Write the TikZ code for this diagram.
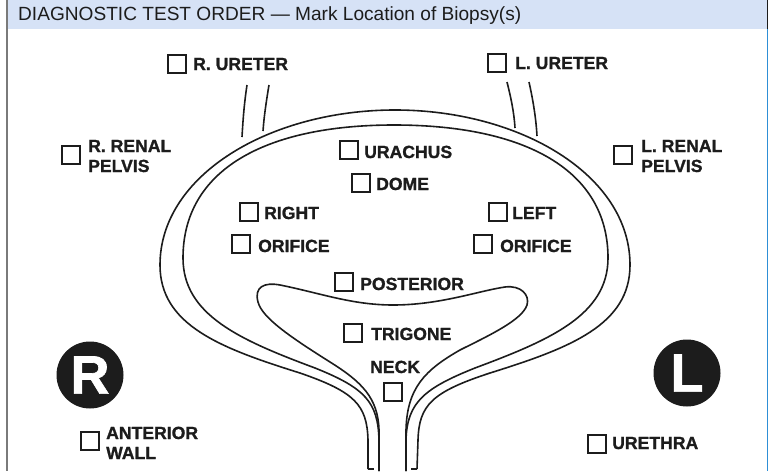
\documentclass[tikz,border=0pt]{standalone}
\usepackage{fontspec}
\setmainfont{Liberation Sans}[BoldFeatures={FakeBold=1.2}]
\definecolor{ink}{HTML}{1C1C1C}
\definecolor{hdr}{HTML}{D6E2F6}
\definecolor{rblue}{HTML}{2E8FD6}
\definecolor{lgray}{HTML}{7A7A7A}
\begin{document}
\begin{tikzpicture}[x=1pt,y=-1pt,
  cbox/.style={draw=ink, line width=2.4pt, minimum size=18.5pt, inner sep=0pt},
  lbl/.style={anchor=base west, inner sep=0pt, text=ink, font=\bfseries\fontsize{17.6}{20}\selectfont},
  wall/.style={draw=ink, line width=1.6pt},
  badge/.style={circle, fill=ink, minimum size=67pt, inner sep=0pt, text=white, font=\bfseries\fontsize{54}{54}\selectfont}]
\useasboundingbox (0,0) rectangle (770,471);
% header and frame
\fill[hdr] (8,0) rectangle (767,29);
\node[anchor=base west, inner sep=0pt, text=ink, font=\fontsize{19.1}{20}\selectfont] (title) at (18,20.5) {DIAGNOSTIC TEST ORDER — Mark Location of Biopsy(s)};
\draw[lgray, line width=1.4pt] (7,0) -- (7,471);
\draw[ink, line width=1.4pt] (767.5,0) -- (767.5,29);
\draw[rblue, line width=1.4pt] (767.5,29) -- (767.5,471);
% ureters
\draw[wall] (247,85) .. controls (244,105) and (243,120) .. (242,137);
\draw[wall] (269,85) .. controls (266,103) and (264,117) .. (263,131);
\draw[wall] (507,82) .. controls (511,98) and (514,112) .. (515,128);
\draw[wall] (529,82) .. controls (533,100) and (536,118) .. (537,136);
% outer wall
\draw[wall] (368,469) -- (368,440) .. controls (367,405) and (355,392) .. (300,373)
  .. controls (220,348) and (160,325) .. (160,265)
  .. controls (160,175) and (270,110) .. (395,110)
  .. controls (520,110) and (630,175) .. (630,265)
  .. controls (630,325) and (570,348) .. (490,373)
  .. controls (432,392) and (419,405) .. (418,440) -- (417,469);
% inner wall
\draw[wall] (379,471) -- (379,440) .. controls (378,402) and (365,388) .. (315,368)
  .. controls (240,340) and (183,315) .. (183,258)
  .. controls (183,170) and (265,125) .. (394,125)
  .. controls (525,125) and (608,170) .. (608,258)
  .. controls (608,315) and (550,340) .. (475,368)
  .. controls (425,388) and (407,402) .. (406,440) -- (406,471);
% trigone
\draw[wall] (379,471) -- (379,430) .. controls (378,398) and (362,382) .. (330,362)
  .. controls (292,338) and (262,318) .. (258,302)
  .. controls (254,287) and (264,282) .. (280,285)
  .. controls (320,293) and (352,305) .. (393,305)
  .. controls (440,305) and (478,291) .. (505,287)
  .. controls (521,285) and (530,295) .. (527,305)
  .. controls (522,320) and (490,335) .. (460,350)
  .. controls (425,370) and (407,388) .. (406,430) -- (406,471);
% urethra end ticks
\draw[wall] (368,469) -- (374,469);
\draw[wall] (411,469) -- (417,469);
% checkboxes and labels
\node[cbox] (b1) at (177,64) {};  \node[lbl] (t1) at (193,70) {R. URETER};
\node[cbox] (b2) at (497,63) {};  \node[lbl] (t2) at (515,69) {L. URETER};
\node[cbox] (b3) at (71,155) {};  \node[lbl] (t3a) at (88,152) {R. RENAL}; \node[lbl] (t3b) at (88,172) {PELVIS};
\node[cbox] (b4) at (623,155) {}; \node[lbl] (t4a) at (641,152) {L. RENAL}; \node[lbl] (t4b) at (641,172) {PELVIS};
\node[cbox] (b5) at (349,150) {}; \node[lbl] (t5) at (364,158) {URACHUS};
\node[cbox] (b6) at (361,183) {}; \node[lbl] (t6) at (376,190) {DOME};
\node[cbox] (b7) at (249,212) {}; \node[lbl] (t7) at (264,219) {RIGHT};
\node[cbox] (b8) at (241,244) {}; \node[lbl] (t8) at (258,252) {ORIFICE};
\node[cbox] (b9) at (498,212) {}; \node[lbl] (t9) at (512,219) {LEFT};
\node[cbox] (b10) at (483,244) {}; \node[lbl] (t10) at (500,252) {ORIFICE};
\node[cbox] (b11) at (344,282) {}; \node[lbl] (t11) at (360,290) {POSTERIOR};
\node[cbox] (b12) at (353,333) {}; \node[lbl] (t12) at (371,340) {TRIGONE};
\node[lbl] (t13) at (370,373) {NECK}; \node[cbox] (b13) at (393,392) {};
\node[cbox] (b14) at (90,441) {}; \node[lbl] (t14a) at (106,439) {ANTERIOR}; \node[lbl] (t14b) at (106,459) {WALL};
\node[cbox] (b15) at (597,444) {}; \node[lbl] (t15) at (612,449) {URETHRA};
% side badges
\node[badge] (rb) at (90,375) {R};
\node[badge] (lb) at (687,373) {L};
\end{tikzpicture}
\end{document}
